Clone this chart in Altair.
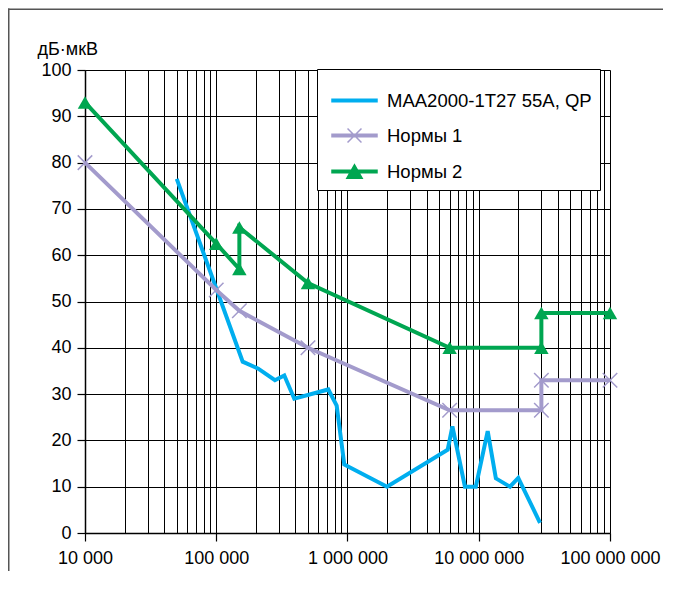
import altair as alt
import pandas as pd

# ---------------- data ----------------
series_names = ["MAA2000-1T27 55A, QP", "Нормы 1", "Нормы 2"]
series_colors = ["#00AEEF", "#A39BCC", "#00A651"]

maa_freq = [50000, 159000, 209000, 280000, 330000, 393000, 714000, 827000, 945000,
            2000000, 5800000, 6300000, 7850000, 9500000, 11700000, 13500000,
            17300000, 20000000, 29300000]
maa_level = [76.5, 37, 35.5, 33, 34, 29, 31, 27.5, 14.8,
             10, 18, 23, 10, 10, 22, 11.8,
             10, 11.9, 2.2]

norm1_freq = [10000, 100000, 150000, 500000, 6000000, 30000000, 30000000, 100000000]
norm1_level = [80, 52.5, 48, 40, 26.5, 26.5, 33, 33]

norm2_freq = [10000, 100000, 150000, 150000, 500000, 6000000, 30000000, 30000000, 100000000]
norm2_level = [93, 62.5, 57, 66, 54, 40, 40, 47.5, 47.5]

x_major = [10000, 100000, 1000000, 10000000, 100000000]
x_major_labels = ["10 000", "100 000", "1 000 000", "10 000 000", "100 000 000"]
x_grid = [m * k for m in x_major[:-1] for k in range(1, 10)] + [x_major[-1]]
y_ticks = list(range(0, 101, 10))
y_title = "дБ·мкВ"

# ---------------- tables ----------------
rows = []
for name, col, fr, lv in [(series_names[0], series_colors[0], maa_freq, maa_level),
                          (series_names[1], series_colors[1], norm1_freq, norm1_level),
                          (series_names[2], series_colors[2], norm2_freq, norm2_level)]:
    for i, (f, v) in enumerate(zip(fr, lv)):
        rows.append({"series": name, "col": col, "freq": f, "level": v, "idx": i})
df = pd.DataFrame(rows)
n1 = df[df.series == series_names[1]]
n2 = df[df.series == series_names[2]]
legend_df = pd.DataFrame({"series": series_names, "freq": [100000] * 3, "level": [-50] * 3})
frame_df = pd.DataFrame({"k": [0]})

FONT = "Liberation Sans"
is_major = " || ".join(f"datum.value == {v}" for v in x_major)
label_expr = " : ".join(f"datum.value == {v} ? '{l}'" for v, l in zip(x_major, x_major_labels)) + " : ''"

xenc = alt.X(
    "freq:Q",
    scale=alt.Scale(type="log", domain=[x_major[0], x_major[-1]], nice=False),
    axis=alt.Axis(
        values=x_grid, grid=True, gridColor="#000", gridWidth=1, gridOpacity=1,
        tickColor="#000", tickSize=8, tickWidth=1.2,
        tickOpacity={"condition": {"test": is_major, "value": 1}, "value": 0},
        labelExpr=label_expr, labelFlush=False, labelOverlap=False,
        labelFontSize=18, labelFont=FONT, labelColor="#000", labelPadding=8,
        domainColor="#000", domainWidth=1.5, title=None,
    ),
)
yenc = alt.Y(
    "level:Q",
    scale=alt.Scale(domain=[0, 100], nice=False),
    axis=alt.Axis(
        values=y_ticks, grid=True, gridColor="#000", gridWidth=1, gridOpacity=1,
        tickColor="#000", tickSize=8, tickWidth=1.2,
        labelFontSize=18, labelFont=FONT, labelColor="#000", labelPadding=6,
        domainColor="#000", domainWidth=1.5,
        title=y_title, titleAngle=0, titleAlign="left", titleBaseline="alphabetic",
        titleX=-48, titleY=-16, titleFontSize=18, titleFont=FONT,
        titleFontWeight="normal", titleColor="#000",
    ),
)

# outer frame: thin filled strips along the top and left edges of the picture
frame_top = alt.Chart(frame_df).mark_rect(color="#555").encode(
    x=alt.value(-77), x2=alt.value(578), y=alt.value(-61.5), y2=alt.value(-60))
frame_left = alt.Chart(frame_df).mark_rect(color="#555").encode(
    x=alt.value(-77), x2=alt.value(-75.5), y=alt.value(-61.5), y2=alt.value(501))

lines = alt.Chart(df).mark_line(strokeWidth=4).encode(
    x=xenc, y=yenc,
    color=alt.Color("col:N", scale=None),
    detail="series:N",
    order="idx:Q",
)

cross_path = "M-1,-1L1,1M-1,1L1,-1"
crosses = alt.Chart(n1).mark_point(shape=cross_path, size=210, filled=False, strokeWidth=1.5,
                                    color=series_colors[1], opacity=1).encode(x=xenc, y=yenc)
triangles = alt.Chart(n2).mark_point(shape="triangle-up", size=210, filled=True,
                                      color=series_colors[2], opacity=1).encode(x=xenc, y=yenc)

bar = "M-1,-0.06H1V0.06H-1Z"
legend_shapes = [
    bar,
    bar + "M-0.31,-0.31L0.31,0.31M-0.31,0.31L0.31,-0.31",
    bar + "M0,-0.3L0.34,0.3L-0.34,0.3Z",
]
leg = alt.Legend(
    title=None, orient="none", legendX=232, legendY=-1,
    fillColor="white", strokeColor="#000", padding=8, symbolOffset=6, labelOffset=9,
    labelFontSize=18.5, labelFont=FONT, labelColor="#000",
    symbolSize=2025, symbolStrokeWidth=1.5, labelLimit=400,
)
legend_layer = alt.Chart(legend_df).mark_point(filled=True, size=2025, opacity=1, clip=True,
                                                strokeWidth=1.5).encode(
    x=xenc, y=yenc,
    fill=alt.Fill("series:N", scale=alt.Scale(domain=series_names, range=series_colors), legend=leg),
    stroke=alt.Stroke("series:N", scale=alt.Scale(domain=series_names, range=series_colors), legend=leg),
    shape=alt.Shape("series:N", scale=alt.Scale(domain=series_names, range=legend_shapes), legend=leg),
)

chart = alt.layer(frame_top, frame_left, lines, crosses, triangles, legend_layer).properties(
    width=525, height=463,
    autosize=alt.AutoSizeParams(type="none"),
    padding={"left": 77, "top": 62, "right": 55, "bottom": 40},
).configure_view(stroke=None).configure(font=FONT)

chart.save("out.html", embed_options={"renderer": "svg", "actions": False})
